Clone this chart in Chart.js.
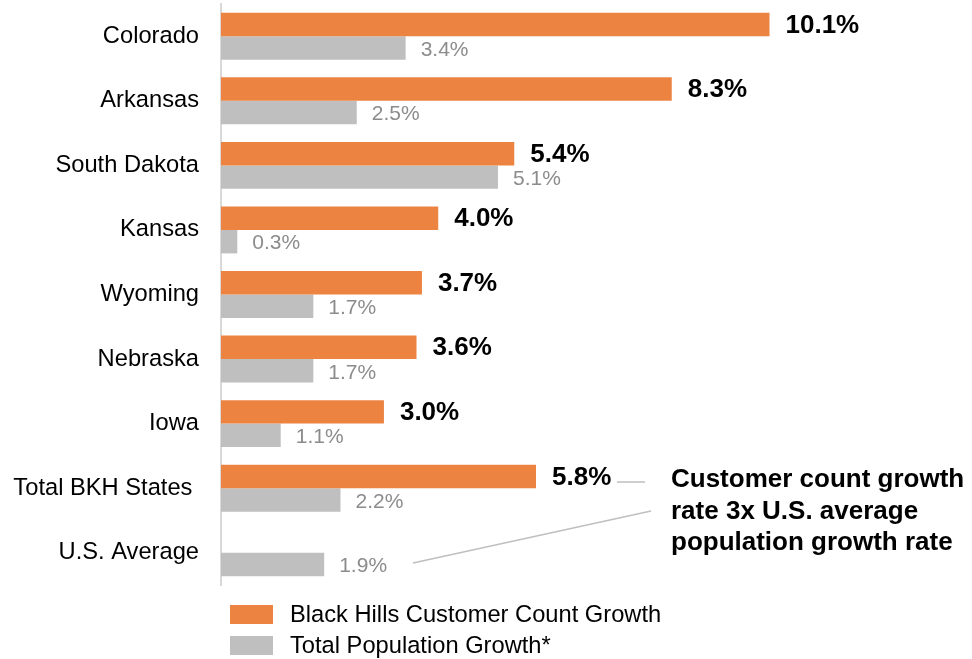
<!DOCTYPE html>
<html>
<head>
<meta charset="utf-8">
<script src="https://cdn.jsdelivr.net/npm/chart.js@4/dist/chart.umd.min.js"></script>
<style>
  html, body { margin: 0; padding: 0; background: #fff; }
  #wrap { width: 972px; height: 659px; position: relative; }
</style>
</head>
<body>
<div id="wrap"><canvas id="myChart"></canvas></div>
<script>
const states = [
  'Colorado',
  'Arkansas',
  'South Dakota',
  'Kansas',
  'Wyoming',
  'Nebraska',
  'Iowa',
  'Total BKH States ',
  'U.S. Average',
];
const customerGrowth = [10.1, 8.3, 5.4, 4.0, 3.7, 3.6, 3.0, 5.8, null];
const populationGrowth = [3.4, 2.5, 5.1, 0.3, 1.7, 1.7, 1.1, 2.2, 1.9];
const seriesNames = ['Black Hills Customer Count Growth', 'Total Population Growth*'];
const calloutLines = ['Customer count growth', 'rate 3x U.S. average', 'population growth rate'];

const ORANGE = '#ED8340';
const GREY = '#BFBFBF';
const FONT = '"Liberation Sans", Arial, sans-serif';

// value labels, callout text and legend
const extrasPlugin = {
  id: 'extras',
  afterDatasetsDraw(chart) {
    const ctx = chart.ctx;
    ctx.save();
    ctx.textBaseline = 'middle';
    ctx.textAlign = 'left';

    chart.getDatasetMeta(0).data.forEach((bar, i) => {
      const v = customerGrowth[i];
      if (v == null) return;
      ctx.font = 'bold 26px ' + FONT;
      ctx.fillStyle = '#000';
      ctx.fillText(v.toFixed(1) + '%', bar.x + 16, bar.y + 1);
    });
    chart.getDatasetMeta(1).data.forEach((bar, i) => {
      const v = populationGrowth[i];
      ctx.font = '21px ' + FONT;
      ctx.fillStyle = '#8C8C8C';
      ctx.fillText(v.toFixed(1) + '%', bar.x + 15, bar.y + 2);
    });

    // connector lines
    ctx.strokeStyle = '#BFBFBF';
    ctx.lineWidth = 1.5;
    ctx.beginPath();
    ctx.moveTo(617, 482);
    ctx.lineTo(645, 482);
    ctx.moveTo(413, 563);
    ctx.lineTo(651, 511);
    ctx.stroke();

    // callout
    ctx.font = 'bold 26px ' + FONT;
    ctx.fillStyle = '#000';
    ctx.textBaseline = 'alphabetic';
    calloutLines.forEach((t, i) => ctx.fillText(t, 671, 487 + i * 31.5));

    // legend
    const colors = [ORANGE, GREY];
    ctx.font = '23.7px ' + FONT;
    ctx.textBaseline = 'middle';
    seriesNames.forEach((name, i) => {
      const y = 605 + i * 31;
      ctx.fillStyle = colors[i];
      ctx.fillRect(230, y, 43, 19);
      ctx.fillStyle = '#000';
      ctx.fillText(name, 290, y + 10);
    });
    ctx.restore();
  },
};

new Chart(document.getElementById('myChart'), {
  type: 'bar',
  data: {
    labels: states,
    datasets: [
      {
        label: seriesNames[0],
        data: customerGrowth,
        backgroundColor: ORANGE,
        barPercentage: 1,
        categoryPercentage: 0.727,
      },
      {
        label: seriesNames[1],
        data: populationGrowth,
        backgroundColor: GREY,
        barPercentage: 1,
        categoryPercentage: 0.727,
      },
    ],
  },
  options: {
    indexAxis: 'y',
    responsive: true,
    maintainAspectRatio: false,
    animation: false,
    layout: { padding: { top: 4, right: 45, bottom: 74, left: 0 } },
    plugins: {
      legend: { display: false },
      tooltip: { enabled: false },
    },
    scales: {
      x: {
        display: false,
        min: 0,
        max: 13,
      },
      y: {
        afterFit(scale) {
          scale.width = 221;
          scale.paddingTop = 0;
          scale.paddingBottom = 0;
        },
        grid: { display: false, drawTicks: false },
        border: { display: true, color: '#D9D9D9', width: 2 },
        ticks: {
          padding: 22,
          color: '#000',
          font: { family: FONT, size: 23.7 },
        },
      },
    },
  },
  plugins: [extrasPlugin],
});
</script>
</body>
</html>
